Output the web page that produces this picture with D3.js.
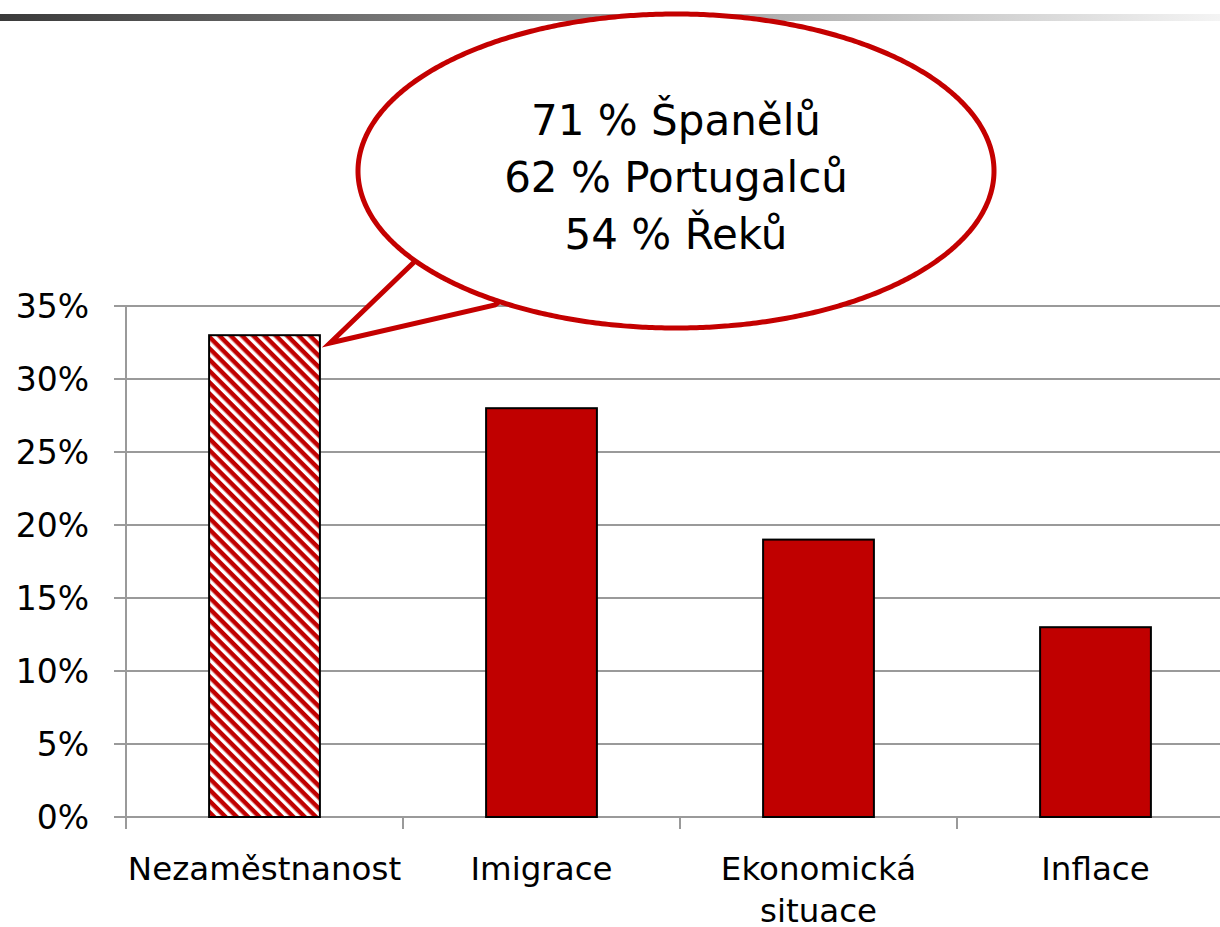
<!DOCTYPE html>
<html>
<head>
<meta charset="utf-8">
<script src="https://cdn.jsdelivr.net/npm/d3@7"></script>
<style>
  body { margin: 0; background: #fff; }
  svg { display: block; font-family: Tahoma, "DejaVu Sans", sans-serif; }
</style>
</head>
<body>
<div id="chart"></div>
<script>
// data
const categories = ["Nezaměstnanost", "Imigrace", "Ekonomická situace", "Inflace"];
const values = [33, 28, 19, 13];
const yTicks = [0, 5, 10, 15, 20, 25, 30, 35];
const calloutLines = ["71 % Španělů", "62 % Portugalců", "54 % Řeků"];

const width = 1220, height = 927;
const svg = d3.select("#chart").append("svg").attr("width", width).attr("height", height);
const defs = svg.append("defs");

// top gradient strip
const grad = defs.append("linearGradient").attr("id", "topbar");
grad.append("stop").attr("offset", "0%").attr("stop-color", "#3a3a3a");
grad.append("stop").attr("offset", "100%").attr("stop-color", "#f4f4f4");
svg.append("rect").attr("x", 0).attr("y", 14).attr("width", width).attr("height", 7).attr("fill", "url(#topbar)");

// hatch for first bar
const pat = defs.append("pattern").attr("id", "hatch")
  .attr("patternUnits", "userSpaceOnUse").attr("width", 8).attr("height", 8)
  .attr("patternTransform", "rotate(45)");
pat.append("rect").attr("width", 8).attr("height", 8).attr("fill", "#fff");
pat.append("rect").attr("width", 8).attr("height", 4.5).attr("fill", "#c00000");

const x = d3.scaleBand().domain(categories).range([126, 1234]).paddingInner(0).paddingOuter(0);
const y = d3.scaleLinear().domain([0, 35]).range([817, 306]);
const barW = x.bandwidth() * 0.4;

// gridlines
svg.append("g").selectAll("line").data(yTicks).join("line")
  .attr("x1", 114).attr("x2", width)
  .attr("y1", d => y(d)).attr("y2", d => y(d))
  .attr("stroke", "#9a9a9a").attr("stroke-width", 2);

// y axis line
svg.append("line").attr("x1", 126).attr("x2", 126).attr("y1", 306).attr("y2", 829)
  .attr("stroke", "#9a9a9a").attr("stroke-width", 2);

// category ticks
svg.append("g").selectAll("line").data(categories).join("line")
  .attr("x1", d => x(d)).attr("x2", d => x(d))
  .attr("y1", 817).attr("y2", 829)
  .attr("stroke", "#9a9a9a").attr("stroke-width", 2);

// y labels
svg.append("g").selectAll("text").data(yTicks).join("text")
  .attr("x", 89).attr("y", d => y(d) + 12)
  .attr("text-anchor", "end").attr("font-size", 33).attr("fill", "#000")
  .text(d => d + "%");

// bars
svg.append("g").selectAll("rect").data(values).join("rect")
  .attr("x", (d, i) => x(categories[i]) + (x.bandwidth() - barW) / 2)
  .attr("width", barW)
  .attr("y", d => y(d))
  .attr("height", d => y(0) - y(d))
  .attr("fill", (d, i) => i === 0 ? "url(#hatch)" : "#c00000")
  .attr("stroke", "#000").attr("stroke-width", 2);

// category labels
const catLabels = svg.append("g").selectAll("text").data(categories).join("text")
  .attr("text-anchor", "middle").attr("font-size", 32.5).attr("fill", "#000")
  .attr("x", d => x(d) + x.bandwidth() / 2).attr("y", 880);
catLabels.each(function(d) {
  const parts = d === "Ekonomická situace" ? ["Ekonomická", "situace"] : [d];
  d3.select(this).selectAll("tspan").data(parts).join("tspan")
    .attr("x", x(d) + x.bandwidth() / 2)
    .attr("dy", (p, i) => i === 0 ? 0 : 42)
    .text(p => p);
});

// callout bubble
const cx = 676, cy = 171, rx = 318, ry = 157;
const a1 = Math.atan2((262 - cy) / ry, (412 - cx) / rx);
const a2 = Math.atan2((305 - cy) / ry, (495 - cx) / rx);
const pts = [];
for (let t = a2; t <= a1 + 2 * Math.PI; t += 0.01) {
  pts.push([cx + rx * Math.cos(t), cy + ry * Math.sin(t)]);
}
pts.push([cx + rx * Math.cos(a1), cy + ry * Math.sin(a1)]);
pts.push([330, 343]);
pts.push([495, 305]);
svg.append("path")
  .attr("d", d3.line()(pts) + "Z")
  .attr("fill", "#fff").attr("stroke", "#c40000").attr("stroke-width", 5)
  .attr("stroke-linejoin", "miter");

svg.append("g").selectAll("text").data(calloutLines).join("text")
  .attr("x", 676).attr("y", (d, i) => 135 + i * 57)
  .attr("text-anchor", "middle").attr("font-size", 42).attr("fill", "#000")
  .text(d => d);
</script>
</body>
</html>
